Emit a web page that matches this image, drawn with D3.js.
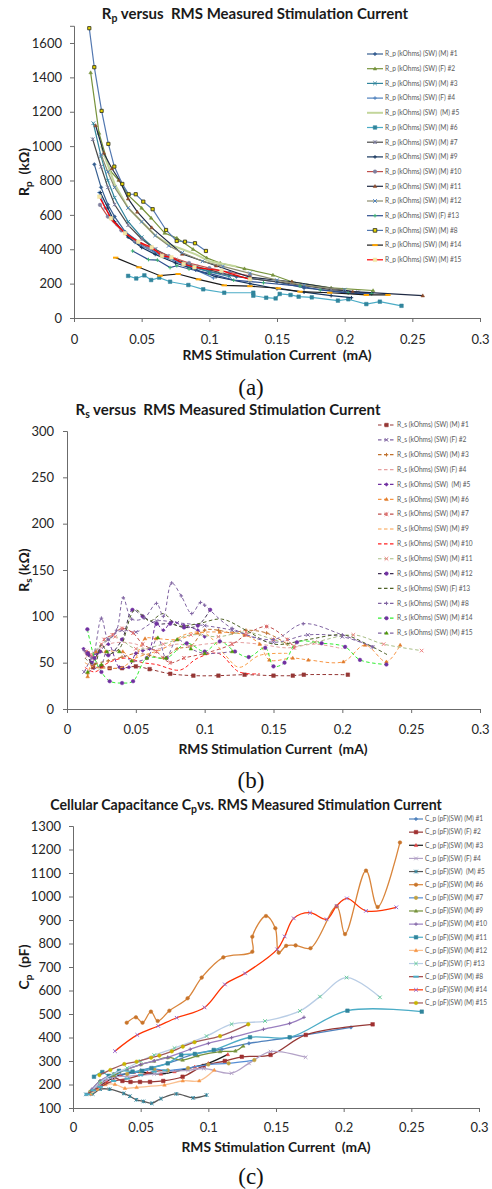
<!DOCTYPE html>
<html>
<head>
<meta charset="utf-8">
<script src="https://cdn.jsdelivr.net/npm/d3@7"></script>
<style>
  body { margin: 0; background: #fff; }
  text { font-family: Lato, "Open Sans", sans-serif; white-space: pre; }
</style>
</head>
<body>
<svg id="chart" width="492" height="1189"></svg>
<script>
// shared x axis
const xTicks = [0, 0.05, 0.1, 0.15, 0.2, 0.25, 0.3];
const xTickLabels = ["0", "0.05", "0.1", "0.15", "0.2", "0.25", "0.3"];

// ---- (a) Rp (kOhm) vs RMS current (mA)
const rpTicks = [0, 200, 400, 600, 800, 1000, 1200, 1400, 1600];
const rpNames = [
  "R_p (kOhms) (SW) (M) #1", "R_p (kOhms) (SW) (F) #2", "R_p (kOhms) (SW) (M) #3",
  "R_p (kOhms) (SW) (F) #4", "R_p (kOhms) (SW)  (M) #5", "R_p (kOhms) (SW) (M) #6",
  "R_p (kOhms) (SW) (M) #7", "R_p (kOhms) (SW) (M) #9", "R_p (kOhms) (SW) (M) #10",
  "R_p (kOhms) (SW) (M) #11", "R_p (kOhms) (SW) (M) #12", "R_p (kOhms) (SW) (F) #13",
  "R_p (kOhms) (SW) (M) #8", "R_p (kOhms) (SW) (M) #14", "R_p (kOhms) (SW) (M) #15"
];
const rpPoints = [
  [[0.015,894],[0.02,760],[0.025,660],[0.03,590],[0.038,500],[0.05,430],[0.065,360],[0.08,320],[0.1,270],[0.12,240],[0.15,210],[0.17,175],[0.2,150],[0.22,145]],
  [[0.0123,1428],[0.0185,1076],[0.0266,857],[0.033,803],[0.04,715],[0.05,640],[0.057,582],[0.067,494],[0.076,465],[0.088,400],[0.098,350],[0.108,320],[0.126,287],[0.147,250],[0.161,211],[0.19,175],[0.221,160]],
  [[0.0143,1133],[0.02,940],[0.025,800],[0.03,700],[0.04,560],[0.05,470],[0.06,400],[0.07,350],[0.085,300],[0.1,270],[0.115,240]],
  [[0.0186,730],[0.023,640],[0.032,540],[0.045,440],[0.06,380],[0.075,330],[0.09,280],[0.103,233]],
  [[0.02,1000],[0.03,780],[0.04,640],[0.05,560],[0.06,480],[0.07,430],[0.08,400],[0.09,370],[0.1,330],[0.12,300]],
  [[0.040,245],[0.046,230],[0.052,248],[0.057,221],[0.063,235],[0.071,211],[0.0845,192],[0.0955,167],[0.111,147],[0.1325,147],[0.1325,130],[0.142,118],[0.149,114],[0.152,140],[0.160,134],[0.166,124],[0.1757,120],[0.195,101],[0.2027,109],[0.216,81],[0.226,95],[0.242,71]],
  [[0.0138,1040],[0.02,880],[0.025,760],[0.03,660],[0.04,540],[0.05,460],[0.06,400],[0.075,340],[0.09,300],[0.11,260],[0.13,230],[0.16,200],[0.19,165],[0.21,150]],
  [[0.0195,730],[0.025,640],[0.03,560],[0.04,470],[0.05,410],[0.06,370],[0.075,320],[0.09,280],[0.105,240],[0.13,200],[0.15,170],[0.17,150],[0.19,130],[0.205,118]],
  [[0.0192,658],[0.025,590],[0.035,510],[0.045,450],[0.055,410],[0.07,360],[0.085,320],[0.1,290],[0.115,265],[0.13,245]],
  [[0.016,1120],[0.022,960],[0.028,870],[0.0335,803],[0.040,694],[0.0468,617],[0.0574,526],[0.080,372],[0.105,304],[0.130,237],[0.161,211],[0.206,153],[0.2577,130]],
  [[0.02,950],[0.025,850],[0.03,760],[0.04,640],[0.05,560],[0.06,480],[0.07,420],[0.08,380],[0.095,330],[0.11,300],[0.13,260],[0.15,220],[0.17,190],[0.2,165]],
  [[0.0433,390],[0.055,340],[0.0616,337],[0.071,293],[0.076,304],[0.085,285],[0.1,260],[0.118,220],[0.14,205],[0.167,186],[0.182,163],[0.2026,145],[0.22,140]],
  [[0.0113,1686],[0.015,1459],[0.0204,1205],[0.0254,1013],[0.0298,881],[0.0357,780],[0.0404,720],[0.0456,720],[0.0512,677],[0.0581,633],[0.068,512],[0.0759,448],[0.082,444],[0.0894,435],[0.0975,390]],
  [[0.0308,351],[0.048,295],[0.0636,246],[0.077,256],[0.092,225],[0.111,190],[0.13,185],[0.151,173],[0.167,153],[0.189,147],[0.216,134],[0.232,134]],
  [[0.0187,706],[0.0273,580],[0.0377,493],[0.0475,444],[0.0574,411],[0.065,361],[0.072,353],[0.081,314],[0.089,295],[0.109,275],[0.130,225]]
];

// ---- (b) Rs (kOhm) vs RMS current (mA)
const rsTicks = [0, 50, 100, 150, 200, 250, 300];
const rsNames = [
  "R_s (kOhms) (SW) (M) #1", "R_s (kOhms) (SW) (F) #2", "R_s (kOhms) (SW) (M) #3",
  "R_s (kOhms) (SW) (F) #4", "R_s (kOhms) (SW)  (M) #5", "R_s (kOhms) (SW) (M) #6",
  "R_s (kOhms) (SW) (M) #7", "R_s (kOhms) (SW) (M) #9", "R_s (kOhms) (SW) (M) #10",
  "R_s (kOhms) (SW) (M) #11", "R_s (kOhms) (SW) (M) #12", "R_s (kOhms) (SW) (F) #13",
  "R_s (kOhms) (SW) (M) #8", "R_s (kOhms) (SW) (M) #14", "R_s (kOhms) (SW) (M) #15"
];
const rsPoints = [
  [[0.015,60],[0.019,45],[0.025,46],[0.031,44],[0.04,44],[0.05,46],[0.06,43],[0.075,38],[0.0918,36],[0.11,36],[0.129,37],[0.15,36],[0.164,36],[0.172,37],[0.204,37]],
  [[0.0125,40],[0.02,60],[0.03,75],[0.04,85],[0.05,83],[0.065,95],[0.08,93],[0.1,90],[0.12,85],[0.15,72],[0.175,80],[0.2,78],[0.222,67]],
  [[0.015,38],[0.02,48],[0.03,52],[0.04,56],[0.05,60],[0.06,58],[0.07,55],[0.08,65],[0.09,68],[0.1,85],[0.11,85],[0.12,82],[0.13,85],[0.145,82],[0.16,70]],
  [[0.013,55],[0.02,62],[0.03,70],[0.04,72],[0.05,70],[0.06,64],[0.07,66],[0.08,70],[0.09,68],[0.1,70],[0.12,72],[0.14,70],[0.16,66],[0.18,70],[0.2,65]],
  [[0.012,65],[0.016,58],[0.022,60],[0.03,70],[0.038,45],[0.045,45],[0.05,60],[0.055,63],[0.06,65],[0.065,92],[0.07,85],[0.076,94],[0.085,90],[0.095,85],[0.1,78]],
  [[0.015,35],[0.021,62],[0.028,62],[0.0405,62],[0.048,52],[0.0567,76],[0.0647,76],[0.0803,75],[0.095,82],[0.111,83],[0.129,80],[0.14,70],[0.147,53],[0.164,55],[0.1753,53],[0.2007,51],[0.2165,69],[0.232,51],[0.242,69]],
  [[0.014,62],[0.02,55],[0.027,75],[0.033,80],[0.04,87],[0.048,82],[0.055,70],[0.065,62],[0.075,50],[0.085,55],[0.1,60],[0.12,70],[0.13,80],[0.145,89],[0.16,75],[0.165,66]],
  [[0.013,50],[0.02,45],[0.03,44],[0.04,45],[0.05,55],[0.06,60],[0.07,65],[0.085,80],[0.1,82],[0.115,58],[0.125,45],[0.14,58],[0.16,60]],
  [[0.013,45],[0.02,40],[0.03,50],[0.043,55],[0.055,50],[0.065,48],[0.082,42],[0.095,55],[0.11,60],[0.125,40],[0.14,38]],
  [[0.018,58],[0.025,70],[0.035,78],[0.05,65],[0.07,70],[0.09,80],[0.11,78],[0.13,83],[0.15,75],[0.165,68],[0.18,72],[0.208,80],[0.23,70],[0.2576,63]],
  [[0.015,60],[0.018,50],[0.024,62],[0.03,58],[0.04,75],[0.0475,107],[0.055,100],[0.065,92],[0.075,92],[0.085,88],[0.095,90],[0.104,107]],
  [[0.013,55],[0.02,48],[0.025,70],[0.03,60],[0.038,65],[0.0494,107],[0.06,95],[0.07,103],[0.08,90],[0.095,92],[0.1124,97],[0.13,85],[0.15,70],[0.175,75],[0.2007,80],[0.218,70],[0.2334,58]],
  [[0.0125,63],[0.018,55],[0.025,98],[0.03,75],[0.036,85],[0.0409,120],[0.047,97],[0.056,98],[0.065,114],[0.07,100],[0.076,136],[0.083,122],[0.0906,103],[0.097,115],[0.1,112],[0.12,87],[0.15,75],[0.1716,92],[0.2,80],[0.222,67]],
  [[0.0148,86],[0.02,55],[0.025,40],[0.031,30],[0.04,28],[0.048,30],[0.058,55],[0.0724,55],[0.087,71],[0.1,62],[0.111,73],[0.122,62],[0.132,56],[0.144,66],[0.15,46],[0.158,50],[0.167,72],[0.185,71],[0.202,67],[0.2128,53],[0.232,48]],
  [[0.015,40],[0.025,48],[0.029,62],[0.038,62],[0.047,52],[0.058,55],[0.066,77],[0.072,55],[0.08,75],[0.09,65],[0.1,60],[0.12,62]]
];

// ---- (c) Cp (pF) vs RMS current (mA)
const cpTicks = [100, 200, 300, 400, 500, 600, 700, 800, 900, 1000, 1100, 1200, 1300];
const cpNames = [
  "C_p (pF)(SW) (M) #1", "C_p (pF)(SW) (F) #2", "C_p (pF)(SW) (M) #3",
  "C_p (pF)(SW) (F) #4", "C_p (pF)(SW)  (M) #5", "C_p (pF)(SW) (M) #6",
  "C_p (pF)(SW) (M) #7", "C_p (pF)(SW) (M) #9", "C_p (pF)(SW) (M) #10",
  "C_p (pF)(SW) (M) #11", "C_p (pF)(SW) (M) #12", "C_p (pF)(SW) (F) #13",
  "C_p (pF)(SW) (M) #8", "C_p (pF)(SW) (M) #14", "C_p (pF)(SW) (M) #15"
];
const cpPoints = [
  [[0.013,160],[0.02,200],[0.03,230],[0.05,260],[0.07,290],[0.09,330],[0.11,350],[0.13,375],[0.16,400],[0.2054,443]],
  [[0.013,165],[0.018,185],[0.024,210],[0.0298,230],[0.0365,215],[0.0425,211],[0.0495,211],[0.0569,211],[0.0667,215],[0.081,233],[0.0966,279],[0.1122,300],[0.1247,318],[0.146,326],[0.172,411],[0.2214,456]],
  [[0.013,170],[0.018,195],[0.025,215],[0.035,240],[0.045,252],[0.055,250],[0.065,245],[0.075,255],[0.09,275],[0.1,290],[0.1144,328]],
  [[0.015,175],[0.02,200],[0.03,230],[0.04,235],[0.05,240],[0.06,245],[0.07,255],[0.085,260],[0.0966,268],[0.1172,248],[0.13,290],[0.146,340],[0.1719,316]],
  [[0.0096,158],[0.0145,160],[0.02,180],[0.027,180],[0.0375,162],[0.042,150],[0.0468,135],[0.052,128],[0.0582,120],[0.065,140],[0.0764,160],[0.0888,143],[0.0987,155]],
  [[0.0397,463],[0.0465,486],[0.0514,463],[0.0576,510],[0.0626,470],[0.0712,514],[0.0847,567],[0.0951,655],[0.1111,741],[0.1325,765],[0.1325,829],[0.1426,917],[0.1495,865],[0.152,761],[0.1575,790],[0.1645,792],[0.1755,780],[0.1948,958],[0.201,840],[0.2165,1110],[0.2251,955],[0.2416,1230]],
  [[0.013,170],[0.02,210],[0.03,240],[0.04,245],[0.05,255],[0.06,265],[0.07,260],[0.085,270],[0.1,285],[0.115,290],[0.134,304]],
  [[0.013,170],[0.02,215],[0.03,240],[0.04,265],[0.05,285],[0.06,300],[0.07,315],[0.081,304],[0.092,322],[0.1087,340],[0.12,343],[0.1258,364]],
  [[0.014,180],[0.02,215],[0.03,245],[0.04,265],[0.05,285],[0.06,300],[0.07,315],[0.0866,350],[0.1,375],[0.1172,399],[0.1407,435],[0.1601,460],[0.1707,486]],
  [[0.0155,233],[0.0217,253],[0.0265,237],[0.034,258],[0.044,255],[0.051,258],[0.058,270],[0.07,290],[0.08,325],[0.09,330],[0.104,347],[0.1308,401],[0.1601,401],[0.2028,514],[0.2577,510]],
  [[0.013,160],[0.018,180],[0.024,200],[0.031,201],[0.0384,184],[0.047,188],[0.0676,198],[0.0811,216],[0.0933,216],[0.1044,262]],
  [[0.013,165],[0.02,210],[0.03,245],[0.04,270],[0.05,300],[0.06,325],[0.075,355],[0.0987,406],[0.1172,457],[0.1419,470],[0.1677,513],[0.1825,574],[0.2022,655],[0.2268,571]],
  [[0.0105,158],[0.015,175],[0.02,190],[0.03,215],[0.04,225],[0.05,240],[0.06,255],[0.068,260]],
  [[0.031,342],[0.0475,411],[0.063,449],[0.0766,484],[0.0972,528],[0.1122,626],[0.1271,673],[0.1509,775],[0.1564,830],[0.1631,907],[0.1751,931],[0.1874,903],[0.1948,960],[0.2024,992],[0.2165,939],[0.2389,954]],
  [[0.0195,240],[0.0276,262],[0.0379,287],[0.047,297],[0.0577,314],[0.0638,323],[0.073,341],[0.0811,361],[0.0898,380],[0.1087,406],[0.1295,456]]
];

// styles: [line colour, marker, marker colour]
const rpStyle = [
  ["#365F91","diamond","#365F91"], ["#77933C","triangle","#77933C"], ["#31859C","times","#31859C"],
  ["#4F81BD","plus","#4F81BD"], ["#C3D69B","none",null], ["#4BACC6","square","#31859C"],
  ["#4A4A4A","star","#7F7F9F"], ["#17375E","plus","#17375E"], ["#C0504D","circle","#7F7F9F"],
  ["#1F2A44","triangle","#8B4A2B"], ["#8C8C6E","times","#4F81BD"], ["#2E4F8F","plus","#3CB371"],
  ["#5277B0","dot","#E8D800"], ["#1A1A1A","dash","#FFA500"], ["#FF0000","square","#F3E6A6"]
];
const rsStyle = [
  ["#953735","square","#953735"], ["#8064A2","times","#8064A2"], ["#C0712D","plus","#C0712D"],
  ["#E6A0A0","none",null], ["#7030A0","diamond","#7030A0"], ["#F79646","triangle","#E07B2A"],
  ["#C0504D","star","#E07070"], ["#F9A04B","none",null], ["#FF2020","none",null],
  ["#A9BE86","times","#F08080"], ["#403152","circle","#7030A0"], ["#4F6228","none",null],
  ["#8064A2","plus","#8064A2"], ["#33EE33","circle","#7030A0"], ["#8064A2","triangle","#4E9A06"]
];
const cpStyle = [
  ["#4F81BD","diamond","#4F81BD"], ["#953735","square","#A03030"], ["#1A1A1A","triangle","#E04040"],
  ["#B3A2C7","times","#B3A2C7"], ["#595959","star","#31859C"], ["#D9853B","circle","#C8742A"],
  ["#558ED5","circle","#C0A040"], ["#77933C","triangle","#77933C"], ["#9A7FC0","plus","#8064A2"],
  ["#4BACC6","square","#31859C"], ["#FAC090","triangle","#F79646"], ["#B9CDE5","times","#66CC99"],
  ["#A04040","dash","#4BACC6"], ["#FF3300","times","#9966CC"], ["#A05A5A","circle","#C8B400"]
];

const svg = d3.select("#chart");

function markerPath(type, r) {
  switch (type) {
    case "diamond": return `M0,${-r}L${r},0L0,${r}L${-r},0Z`;
    case "triangle": return `M0,${-r}L${r},${r*0.7}L${-r},${r*0.7}Z`;
    case "square": return `M${-r},${-r}h${2*r}v${2*r}h${-2*r}Z`;
    case "circle": return `M${-r},0a${r},${r} 0 1,0 ${2*r},0a${r},${r} 0 1,0 ${-2*r},0`;
    case "dot": return `M${-r},${-r}h${2*r}v${2*r}h${-2*r}Z`;
    case "times": return `M${-r},${-r}L${r},${r}M${-r},${r}L${r},${-r}`;
    case "plus": return `M${-r},0H${r}M0,${-r}V${r}`;
    case "star": return `M${-r},${-r}L${r},${r}M${-r},${r}L${r},${-r}M0,${-r}V${r}`;
    case "dash": return `M${-r*1.5},0H${r*1.5}`;
  }
  return "";
}
const filled = {diamond: true, triangle: true, square: true, circle: true, dot: true};

function drawMarker(sel, type, col, r) {
  if (type === "none") return;
  sel.append("path")
    .attr("d", markerPath(type, r))
    .attr("fill", filled[type] ? col : "none")
    .attr("stroke", type === "dot" ? "#3a3a20" : col)
    .attr("stroke-width", type === "dash" ? 2 : (type === "dot" ? 0.9 : (filled[type] ? 0.5 : 1)));
}

function drawPanel(cfg, pts, names, styles) {
  const g = svg.append("g");
  const x = d3.scaleLinear().domain([0, 0.3]).range([cfg.left, cfg.right]);
  const y = d3.scaleLinear().domain(cfg.yDomain).range([cfg.bottom, cfg.top]);

  // axes
  const gx = g.append("g")
    .attr("transform", `translate(0,${cfg.bottom})`)
    .call(d3.axisBottom(x).tickValues(xTicks).tickFormat((d, i) => xTickLabels[i]).tickSize(4));
  gx.selectAll("text")
    .attr("y", cfg.xTickY - cfg.bottom).attr("dy", null)
    .style("font-size", "13px").attr("fill", "#262626");

  const gy = g.append("g")
    .attr("transform", `translate(${cfg.left},0)`)
    .call(d3.axisLeft(y).tickValues(cfg.yTicks).tickFormat(d3.format("d")).tickSize(4));
  gy.selectAll("text")
    .attr("x", cfg.yTickRight - cfg.left)
    .style("font-size", "13px").attr("fill", "#262626");
  g.selectAll(".domain, .tick line").attr("stroke", "#6b6b6b");

  // series
  const line = d3.line()
    .x(d => x(d[0])).y(d => y(d[1]))
    .curve(cfg.smooth ? d3.curveCatmullRom.alpha(0.5) : d3.curveLinear);

  pts.forEach((p, i) => {
    const st = styles[i];
    g.append("path")
      .datum(p)
      .attr("d", line)
      .attr("fill", "none")
      .attr("stroke", st[0])
      .attr("stroke-width", st[1] === "none" && !cfg.dashed ? 2 : cfg.lineW)
      .attr("stroke-dasharray", cfg.dashed ? "3.5,2.5" : null);
    const mk = g.append("g");
    p.forEach(d => {
      const m = mk.append("g").attr("transform", `translate(${x(d[0])},${y(d[1])})`);
      drawMarker(m, st[1], st[2], st[1] === "dot" ? 1.6 : cfg.mr);
    });
  });

  // legend
  const lg = g.append("g");
  names.forEach((n, i) => {
    const st = styles[i];
    const ly = cfg.legY + i * cfg.legStep;
    lg.append("line")
      .attr("x1", cfg.legX).attr("x2", cfg.legX + cfg.legW)
      .attr("y1", ly).attr("y2", ly)
      .attr("stroke", st[0])
      .attr("stroke-width", st[1] === "none" && !cfg.dashed ? 2 : 1.2)
      .attr("stroke-dasharray", cfg.dashed ? "3.5,2.5" : null);
    const m = lg.append("g").attr("transform", `translate(${cfg.legX + cfg.legW / 2},${ly})`);
    drawMarker(m, st[1], st[2], 1.8);
    lg.append("text")
      .attr("x", cfg.legX + cfg.legW + 2).attr("y", ly + 2.3)
      .style("font-size", "6.6px").attr("fill", "#595959")
      .text(n);
  });

  // title
  const t = g.append("text")
    .attr("x", cfg.titleX).attr("y", cfg.titleY)
    .attr("text-anchor", "middle")
    .style("font-size", cfg.titleSize + "px").style("font-weight", "bold").attr("fill", "#1a1a1a");
  cfg.title.forEach(part => {
    t.append("tspan")
      .attr("dy", part[1] ? 3 : (part[2] ? -3 : 0))
      .style("font-size", part[1] ? "10.5px" : null)
      .text(part[0]);
  });

  // y label
  const yl = g.append("text")
    .attr("transform", `translate(${cfg.yLabX},${(cfg.top + cfg.bottom) / 2}) rotate(-90)`)
    .attr("text-anchor", "middle")
    .style("font-size", "14px").style("font-weight", "bold").attr("fill", "#1a1a1a");
  yl.append("tspan").text(cfg.yLab[0]);
  yl.append("tspan").attr("dy", 3).style("font-size", "10px").text(cfg.yLab[1]);
  yl.append("tspan").attr("dy", -3).text(cfg.yLab[2]);

  // x label
  g.append("text")
    .attr("x", cfg.xLabX).attr("y", cfg.xLabY)
    .attr("text-anchor", "middle")
    .style("font-size", "13.8px").style("font-weight", "bold").attr("fill", "#1a1a1a")
    .text("RMS Stimulation Current  (mA)");

  // panel letter
  g.append("text")
    .attr("x", 251).attr("y", cfg.letterY)
    .attr("text-anchor", "middle")
    .style("font-family", "'Liberation Serif', 'DejaVu Serif', serif")
    .style("font-size", "23px").attr("fill", "#111")
    .text(cfg.letter);
}

drawPanel({
  left: 74, right: 480, top: 25.8, bottom: 318, yDomain: [0, 1700], yTicks: rpTicks,
  yTickRight: 62, xTickY: 344, smooth: false, dashed: false, lineW: 1.2, mr: 1.8,
  legX: 367, legW: 16, legY: 54, legStep: 14.7,
  title: [["R"], ["p", true], [" versus  RMS Measured Stimulation Current", false, true]],
  titleSize: 15, titleX: 255, titleY: 19, yLab: ["R", "p", "  (kΩ)"], yLabX: 29,
  xLabX: 277, xLabY: 360, letter: "(a)", letterY: 395
}, rpPoints, rpNames, rpStyle);

drawPanel({
  left: 67, right: 480, top: 431, bottom: 709, yDomain: [0, 300], yTicks: rsTicks,
  yTickRight: 54, xTickY: 734, smooth: true, dashed: true, lineW: 1, mr: 1.8,
  legX: 378, legW: 17, legY: 425, legStep: 14.86,
  title: [["R"], ["s", true], [" versus  RMS Measured Stimulation Current", false, true]],
  titleSize: 15, titleX: 228, titleY: 415, yLab: ["R", "s", " (kΩ)"], yLabX: 29,
  xLabX: 273, xLabY: 754, letter: "(b)", letterY: 788
}, rsPoints, rsNames, rsStyle);

drawPanel({
  left: 73, right: 479, top: 826, bottom: 1108, yDomain: [100, 1300], yTicks: cpTicks,
  yTickRight: 61, xTickY: 1132, smooth: true, dashed: false, lineW: 1.3, mr: 1.8,
  legX: 409, legW: 14, legY: 819, legStep: 13.14,
  title: [["Cellular Capacitance C"], ["p", true], ["vs. RMS Measured Stimulation Current", false, true]],
  titleSize: 14.2, titleX: 246, titleY: 810, yLab: ["C", "p", "  (pF)"], yLabX: 29,
  xLabX: 276, xLabY: 1152, letter: "(c)", letterY: 1184
}, cpPoints, cpNames, cpStyle);
</script>
</body>
</html>
